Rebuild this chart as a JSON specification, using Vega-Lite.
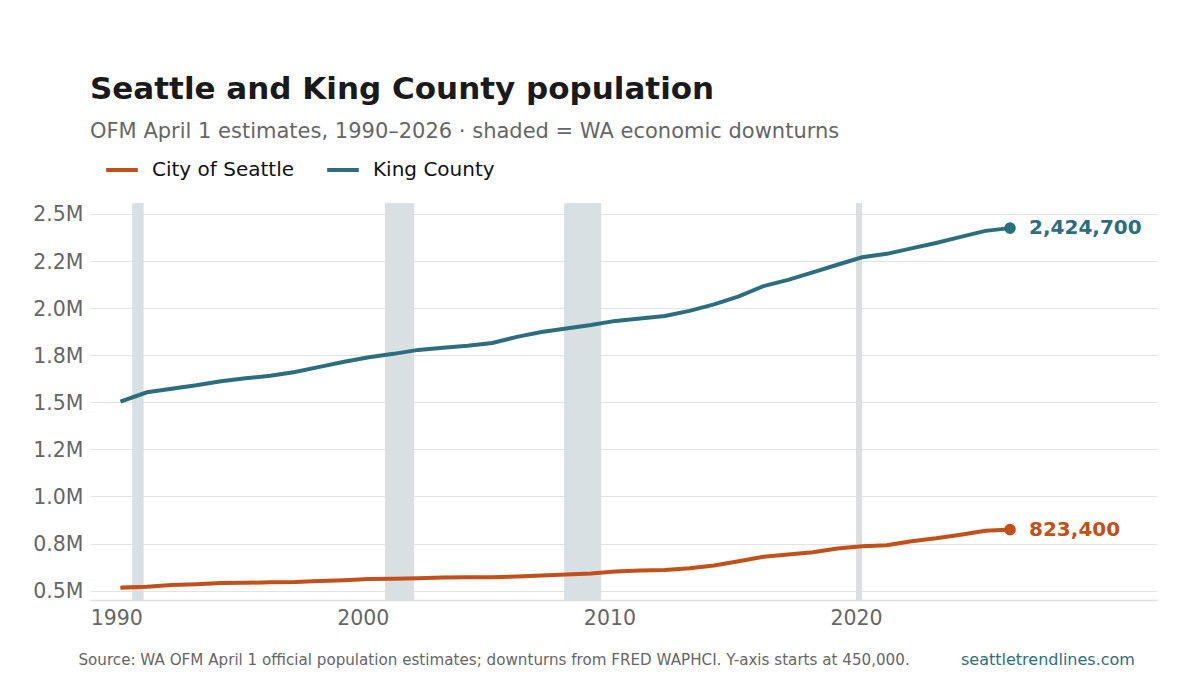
{"$schema":"https://vega.github.io/schema/vega-lite/v6.json","width":1067,"height":397,"autosize":{"type":"none"},"padding":{"left":90,"top":203,"right":43,"bottom":75},"background":"white","config":{"font":"DejaVu Sans","view":{"stroke":null}},"title":{"text":"Seattle and King County population","subtitle":"OFM April 1 estimates, 1990–2026 · shaded = WA economic downturns","anchor":"start","frame":"group","offset":9,"fontSize":31,"fontWeight":"bold","color":"#1a1a1a","font":"DejaVu Sans","subtitleFont":"DejaVu Sans","subtitleFontSize":21,"subtitleColor":"#666666","subtitlePadding":15},"datasets":{"pop":[{"date":"1990-04-01","series":"King County","population":1507000},{"date":"1991-04-01","series":"King County","population":1553000},{"date":"1992-04-01","series":"King County","population":1572000},{"date":"1993-04-01","series":"King County","population":1590000},{"date":"1994-04-01","series":"King County","population":1611000},{"date":"1995-04-01","series":"King County","population":1627000},{"date":"1996-04-01","series":"King County","population":1641000},{"date":"1997-04-01","series":"King County","population":1661000},{"date":"1998-04-01","series":"King County","population":1688000},{"date":"1999-04-01","series":"King County","population":1715000},{"date":"2000-04-01","series":"King County","population":1739000},{"date":"2001-04-01","series":"King County","population":1757000},{"date":"2002-04-01","series":"King County","population":1778000},{"date":"2003-04-01","series":"King County","population":1790000},{"date":"2004-04-01","series":"King County","population":1800000},{"date":"2005-04-01","series":"King County","population":1815000},{"date":"2006-04-01","series":"King County","population":1847000},{"date":"2007-04-01","series":"King County","population":1873000},{"date":"2008-04-01","series":"King County","population":1892000},{"date":"2009-04-01","series":"King County","population":1910000},{"date":"2010-04-01","series":"King County","population":1932000},{"date":"2011-04-01","series":"King County","population":1945000},{"date":"2012-04-01","series":"King County","population":1958000},{"date":"2013-04-01","series":"King County","population":1985000},{"date":"2014-04-01","series":"King County","population":2020000},{"date":"2015-04-01","series":"King County","population":2062000},{"date":"2016-04-01","series":"King County","population":2117000},{"date":"2017-04-01","series":"King County","population":2150000},{"date":"2018-04-01","series":"King County","population":2190000},{"date":"2019-04-01","series":"King County","population":2230000},{"date":"2020-04-01","series":"King County","population":2270000},{"date":"2021-04-01","series":"King County","population":2288000},{"date":"2022-04-01","series":"King County","population":2317000},{"date":"2023-04-01","series":"King County","population":2346000},{"date":"2024-04-01","series":"King County","population":2378000},{"date":"2025-04-01","series":"King County","population":2410000},{"date":"2026-04-01","series":"King County","population":2424700},{"date":"1990-04-01","series":"City of Seattle","population":516000},{"date":"1991-04-01","series":"City of Seattle","population":521000},{"date":"1992-04-01","series":"City of Seattle","population":529000},{"date":"1993-04-01","series":"City of Seattle","population":534000},{"date":"1994-04-01","series":"City of Seattle","population":540000},{"date":"1995-04-01","series":"City of Seattle","population":541000},{"date":"1996-04-01","series":"City of Seattle","population":544000},{"date":"1997-04-01","series":"City of Seattle","population":546000},{"date":"1998-04-01","series":"City of Seattle","population":551000},{"date":"1999-04-01","series":"City of Seattle","population":555000},{"date":"2000-04-01","series":"City of Seattle","population":561000},{"date":"2001-04-01","series":"City of Seattle","population":563000},{"date":"2002-04-01","series":"City of Seattle","population":566000},{"date":"2003-04-01","series":"City of Seattle","population":570000},{"date":"2004-04-01","series":"City of Seattle","population":571000},{"date":"2005-04-01","series":"City of Seattle","population":571000},{"date":"2006-04-01","series":"City of Seattle","population":575000},{"date":"2007-04-01","series":"City of Seattle","population":580000},{"date":"2008-04-01","series":"City of Seattle","population":586000},{"date":"2009-04-01","series":"City of Seattle","population":591000},{"date":"2010-04-01","series":"City of Seattle","population":601000},{"date":"2011-04-01","series":"City of Seattle","population":606000},{"date":"2012-04-01","series":"City of Seattle","population":609000},{"date":"2013-04-01","series":"City of Seattle","population":618000},{"date":"2014-04-01","series":"City of Seattle","population":633000},{"date":"2015-04-01","series":"City of Seattle","population":656000},{"date":"2016-04-01","series":"City of Seattle","population":680000},{"date":"2017-04-01","series":"City of Seattle","population":691000},{"date":"2018-04-01","series":"City of Seattle","population":704000},{"date":"2019-04-01","series":"City of Seattle","population":723000},{"date":"2020-04-01","series":"City of Seattle","population":736000},{"date":"2021-04-01","series":"City of Seattle","population":741000},{"date":"2022-04-01","series":"City of Seattle","population":762000},{"date":"2023-04-01","series":"City of Seattle","population":778000},{"date":"2024-04-01","series":"City of Seattle","population":797000},{"date":"2025-04-01","series":"City of Seattle","population":818000},{"date":"2026-04-01","series":"City of Seattle","population":823400}],"latest":[{"date":"2026-04-01","series":"King County","population":2424700},{"date":"2026-04-01","series":"City of Seattle","population":823400}],"downturns":[{"start":"1990-08-25","end":"1991-02-10"},{"start":"2000-11-25","end":"2002-02-01"},{"start":"2008-03-01","end":"2009-09-01"},{"start":"2020-01-01","end":"2020-04-01"}],"notes":[{"note":"Source: WA OFM April 1 official population estimates; downturns from FRED WAPHCI. Y-axis starts at 450,000."}],"site":[{"note":"seattletrendlines.com"}]},"layer":[{"data":{"name":"downturns"},"mark":{"type":"rect","color":"#d8e0e3"},"encoding":{"x":{"field":"start","type":"temporal","scale":{"domain":["1988-12-08","2032-03-17"]},"axis":{"title":null,"format":"%Y","values":[{"year":1990},{"year":2000},{"year":2010},{"year":2020}],"grid":false,"ticks":false,"labelFontSize":20.5,"labelColor":"#666666","labelPadding":8,"domainColor":"#dddddd","domainWidth":1.5}},"x2":{"field":"end"}}},{"data":{"name":"pop"},"mark":{"type":"line","strokeWidth":4,"strokeCap":"square"},"encoding":{"x":{"field":"date","type":"temporal"},"y":{"field":"population","type":"quantitative","scale":{"domain":[450000,2558000],"nice":false,"zero":false},"axis":{"title":null,"values":[500000,750000,1000000,1250000,1500000,1750000,2000000,2250000,2500000],"labelExpr":"datum.value==1250000?'1.2M':datum.value==2250000?'2.2M':format(datum.value/1000000,'.1f')+'M'","domain":false,"ticks":false,"labelFontSize":20.5,"labelColor":"#666666","labelPadding":7,"labelOffset":1,"grid":true,"gridColor":"#e3e3e3","gridWidth":1}},"color":{"field":"series","type":"nominal","scale":{"domain":["City of Seattle","King County"],"range":["#c2501a","#2d6e7e"]},"legend":{"title":null,"orient":"none","direction":"horizontal","legendX":14,"legendY":-51,"symbolType":"stroke","symbolSize":1000,"symbolStrokeWidth":4,"labelFontSize":20,"labelColor":"#111111","labelOffset":12,"columnPadding":25}}}},{"data":{"name":"latest"},"mark":{"type":"point","filled":true,"opacity":1,"size":135},"encoding":{"x":{"field":"date","type":"temporal"},"y":{"field":"population","type":"quantitative"},"color":{"field":"series","type":"nominal","legend":null}}},{"data":{"name":"latest"},"mark":{"type":"text","align":"left","baseline":"middle","dx":19,"dy":0,"fontSize":20,"fontWeight":"bold"},"encoding":{"x":{"field":"date","type":"temporal"},"y":{"field":"population","type":"quantitative"},"text":{"field":"population","type":"quantitative","format":","},"color":{"field":"series","type":"nominal","legend":null}}},{"data":{"name":"notes"},"mark":{"type":"text","align":"left","baseline":"middle","fontSize":15.15,"color":"#666666","dy":60},"encoding":{"text":{"field":"note"},"x":{"datum":{"year":1988,"month":"Jun","date":20}},"y":{"datum":450000}}},{"data":{"name":"site"},"mark":{"type":"text","align":"right","baseline":"middle","fontSize":16,"color":"#2d6e7e","dy":60},"encoding":{"text":{"field":"note"},"x":{"datum":{"year":2031,"month":"Apr","date":25}},"y":{"datum":450000}}}]}
